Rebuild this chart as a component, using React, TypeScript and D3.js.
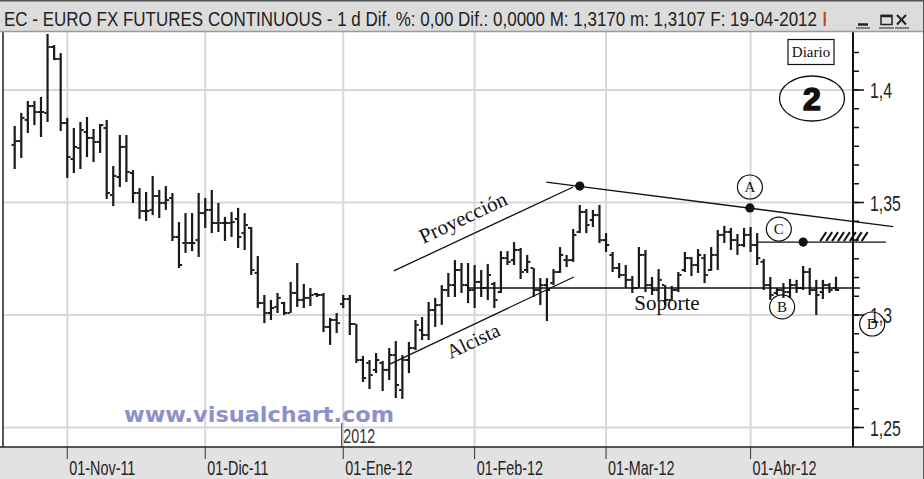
import React from "react";
import * as d3 from "d3";

// ---- Data (EC - Euro FX futures continuous, daily, 20-Oct-2011 .. 19-Apr-2012) ----
const opens = [
  1.3756, 1.3773, 1.3867, 1.3929, 1.3902, 1.3898, 1.4191, 1.4138, 1.3853, 1.3693,
  1.3742, 1.3813, 1.3787, 1.3769, 1.3831, 1.3533, 1.3613, 1.3747, 1.3631, 1.3542,
  1.3462, 1.3467, 1.3529, 1.3498, 1.3520, 1.3347, 1.3320, 1.3320, 1.3333, 1.3453,
  1.3467, 1.3409, 1.3409, 1.3409, 1.3427, 1.3364, 1.3387, 1.3187, 1.3053, 1.3009,
  1.3036, 1.3053, 1.3009, 1.3098, 1.3067, 1.3076, 1.3093, 1.3089, 1.2947, 1.2978,
  1.3049, 1.3071, 1.2960, 1.2800, 1.2787, 1.2756, 1.2787, 1.2756, 1.2822, 1.2667,
  1.2800, 1.2853, 1.2933, 1.2911, 1.3022, 1.3044, 1.3111, 1.3133, 1.3200, 1.3133,
  1.3111, 1.3147, 1.3120, 1.3138, 1.3102, 1.3253, 1.3244, 1.3289, 1.3200, 1.3209,
  1.3111, 1.3133, 1.3142, 1.3191, 1.3244, 1.3244, 1.3369, 1.3458, 1.3422, 1.3444,
  1.3333, 1.3267, 1.3209, 1.3178, 1.3156, 1.3120, 1.3267, 1.3133, 1.3111, 1.3133,
  1.3067, 1.3111, 1.3200, 1.3253, 1.3222, 1.3253, 1.3200, 1.3267, 1.3356, 1.3369,
  1.3333, 1.3311, 1.3356, 1.3311, 1.3236, 1.3133, 1.3098, 1.3111, 1.3102, 1.3133,
  1.3120, 1.3191, 1.3111, 1.3102, 1.3133, 1.3120,
];
const highs = [
  1.3840, 1.3898, 1.3951, 1.3951, 1.3969, 1.4249, 1.4200, 1.4164, 1.3876, 1.3831,
  1.3858, 1.3880, 1.3827, 1.3849, 1.3867, 1.3662, 1.3800, 1.3800, 1.3644, 1.3564,
  1.3547, 1.3618, 1.3556, 1.3573, 1.3542, 1.3413, 1.3453, 1.3453, 1.3542, 1.3520,
  1.3556, 1.3498, 1.3436, 1.3458, 1.3476, 1.3453, 1.3391, 1.3262, 1.3089, 1.3067,
  1.3098, 1.3058, 1.3147, 1.3231, 1.3138, 1.3120, 1.3098, 1.3098, 1.2987, 1.3009,
  1.3089, 1.3089, 1.2960, 1.2818, 1.2800, 1.2831, 1.2796, 1.2853, 1.2884, 1.2822,
  1.2880, 1.2978, 1.2991, 1.3058, 1.3076, 1.3133, 1.3187, 1.3244, 1.3231, 1.3231,
  1.3222, 1.3200, 1.3227, 1.3147, 1.3284, 1.3284, 1.3324, 1.3298, 1.3267, 1.3209,
  1.3164, 1.3164, 1.3204, 1.3302, 1.3267, 1.3382, 1.3489, 1.3471, 1.3467, 1.3489,
  1.3364, 1.3280, 1.3231, 1.3222, 1.3173, 1.3302, 1.3289, 1.3169, 1.3204, 1.3133,
  1.3129, 1.3191, 1.3280, 1.3258, 1.3293, 1.3271, 1.3302, 1.3378, 1.3396, 1.3387,
  1.3360, 1.3387, 1.3391, 1.3364, 1.3249, 1.3169, 1.3120, 1.3142, 1.3160, 1.3156,
  1.3218, 1.3209, 1.3156, 1.3156, 1.3142, 1.3170,
];
const lows = [
  1.3649, 1.3698, 1.3809, 1.3844, 1.3791, 1.3858, 1.4133, 1.3818, 1.3609, 1.3631,
  1.3649, 1.3702, 1.3680, 1.3720, 1.3516, 1.3484, 1.3569, 1.3591, 1.3498, 1.3427,
  1.3418, 1.3444, 1.3431, 1.3467, 1.3329, 1.3209, 1.3276, 1.3284, 1.3258, 1.3387,
  1.3364, 1.3369, 1.3329, 1.3347, 1.3298, 1.3289, 1.3178, 1.3031, 1.2964, 1.2978,
  1.3009, 1.3000, 1.3009, 1.3036, 1.3031, 1.3040, 1.3080, 1.2924, 1.2867, 1.2920,
  1.3031, 1.2911, 1.2787, 1.2702, 1.2671, 1.2742, 1.2662, 1.2711, 1.2631, 1.2627,
  1.2742, 1.2844, 1.2889, 1.2889, 1.2947, 1.2956, 1.3080, 1.3080, 1.3098, 1.3053,
  1.3031, 1.3080, 1.3067, 1.3031, 1.3098, 1.3222, 1.3222, 1.3160, 1.3187, 1.3080,
  1.3044, 1.2973, 1.3133, 1.3187, 1.3213, 1.3236, 1.3364, 1.3364, 1.3391, 1.3320,
  1.3280, 1.3191, 1.3164, 1.3120, 1.3098, 1.3120, 1.3102, 1.3089, 1.3067, 1.3044,
  1.3067, 1.3102, 1.3191, 1.3173, 1.3187, 1.3142, 1.3196, 1.3200, 1.3320, 1.3289,
  1.3267, 1.3302, 1.3280, 1.3222, 1.3111, 1.3067, 1.3089, 1.3076, 1.3076, 1.3098,
  1.3111, 1.3089, 1.3000, 1.3071, 1.3098, 1.3107,
];
const closes = [
  1.3773, 1.3876, 1.3929, 1.3902, 1.3902, 1.4191, 1.4138, 1.3853, 1.3702, 1.3747,
  1.3822, 1.3787, 1.3769, 1.3844, 1.3542, 1.3618, 1.3747, 1.3636, 1.3542, 1.3462,
  1.3462, 1.3529, 1.3498, 1.3511, 1.3347, 1.3222, 1.3320, 1.3320, 1.3453, 1.3467,
  1.3409, 1.3409, 1.3409, 1.3413, 1.3347, 1.3400, 1.3200, 1.3053, 1.3009, 1.3031,
  1.3076, 1.3009, 1.3098, 1.3067, 1.3076, 1.3089, 1.3089, 1.2947, 1.2978, 1.2964,
  1.3071, 1.2960, 1.2800, 1.2720, 1.2733, 1.2800, 1.2756, 1.2822, 1.2689, 1.2800,
  1.2853, 1.2956, 1.2911, 1.3022, 1.3044, 1.3111, 1.3133, 1.3200, 1.3133, 1.3111,
  1.3147, 1.3120, 1.3178, 1.3067, 1.3253, 1.3236, 1.3289, 1.3191, 1.3236, 1.3111,
  1.3133, 1.3111, 1.3191, 1.3267, 1.3244, 1.3356, 1.3458, 1.3400, 1.3444, 1.3333,
  1.3311, 1.3209, 1.3178, 1.3156, 1.3120, 1.3267, 1.3133, 1.3111, 1.3156, 1.3067,
  1.3111, 1.3178, 1.3253, 1.3222, 1.3267, 1.3178, 1.3267, 1.3356, 1.3369, 1.3333,
  1.3311, 1.3356, 1.3311, 1.3253, 1.3133, 1.3089, 1.3111, 1.3102, 1.3133, 1.3120,
  1.3191, 1.3111, 1.3089, 1.3133, 1.3111, 1.3111,
];

// Month ticks (bar index of first session of each month) and labels
const monthTickIdx = [8, 29, 50, 70, 90, 112];
const monthLabels = ["01-Nov-11", "01-Dic-11", "01-Ene-12", "01-Feb-12", "01-Mar-12", "01-Abr-12"];
const yearIdx = 50;
const yearLabel = "2012";

// Price axis
const yTicks = [1.25, 1.3, 1.35, 1.4];
const yTickLabels = ["1,25", "1,3", "1,35", "1,4"];

// Title
const titleText =
  "EC - EURO FX FUTURES CONTINUOUS - 1 d Dif. %: 0,00 Dif.: 0,0000 M: 1,3170 m: 1,3107 F: 19-04-2012";

// Hand-drawn analysis (index, price)
const projLine = [[57.7, 1.3196], [85.0, 1.3569]];
const resistLine = [[80.9, 1.3591], [133.7, 1.3393]];
const alcistaLine = [[57.1, 1.2782], [85.1, 1.3169]];
const supportLine = [[68.85, 1.312], [128.65, 1.312]];
const cLine = [[113.0, 1.3324], [132.6, 1.3324]];
const dots = [[86.0, 1.3573], [111.9, 1.3476], [120.0, 1.3324]];
const circleLabels = [
  { t: "A", i: 111.9, p: 1.3569 },
  { t: "C", i: 116.3, p: 1.3382 },
  { t: "B", i: 116.8, p: 1.3036 },
  { t: "D", i: 130.5, p: 1.296 },
];

const NARROW = 0.72;
const SANS = "'Liberation Sans', Arial, sans-serif";
const SERIF = "'Liberation Serif', 'Times New Roman', serif";

function Narrow(props: any) {
  const { x, y, size, anchor = "start", fill = "#222", children } = props;
  return (
    <text
      transform={`translate(${x},${y}) scale(${NARROW},1)`}
      fontSize={size}
      fontFamily={SANS}
      textAnchor={anchor}
      fill={fill}
    >
      {children}
    </text>
  );
}

export default function App() {
  const W = 924, H = 479;
  const plot = { left: 3, top: 32, right: 853, bottom: 447 };
  const x = d3.scaleLinear().domain([0, highs.length - 1]).range([14.7, 836]);
  const y = d3.scaleLinear().domain([1.25, 1.4]).range([427.5, 90]);
  const minor = d3
    .range(-2, 24)
    .map((k) => 1.25 + (k * 0.05) / 6)
    .filter((v) => y(v) > plot.top + 3 && y(v) < plot.bottom - 3);
  const line = d3
    .line<number[]>()
    .x((d) => x(d[0]))
    .y((d) => y(d[1]));

  const barColor = "#1a1a1a";
  const gridColor = "#d8d8d8";

  const angle = (pts: number[][]) =>
    (Math.atan2(y(pts[1][1]) - y(pts[0][1]), x(pts[1][0]) - x(pts[0][0])) * 180) / Math.PI;

  // hatch
  const hatchX0 = x(122.6), hatchX1 = x(129.8);
  const hatch = d3.range(8).map((k) => hatchX0 + (k * (hatchX1 - hatchX0)) / 8);

  return (
    <svg
      width={W}
      height={H}
      style={{ position: "absolute", left: 0, top: 0, background: "#fff" }}
    >
      <defs>
        <clipPath id="plotClip">
          <rect x={plot.left} y={plot.top} width={plot.right - plot.left} height={plot.bottom - plot.top} />
        </clipPath>
      </defs>
      <rect x={0} y={0} width={W} height={H} fill="#fff" />

      {/* grid */}
      <g clipPath="url(#plotClip)">
        {yTicks.map((v) => (
          <line key={v} x1={plot.left} x2={plot.right} y1={y(v)} y2={y(v)} stroke={gridColor} strokeWidth={2} />
        ))}
        {monthTickIdx.map((i) => (
          <line key={i} x1={x(i)} x2={x(i)} y1={plot.top} y2={plot.bottom} stroke={gridColor} strokeWidth={2} />
        ))}
      </g>

      {/* right axis */}
      <line x1={plot.right} x2={plot.right} y1={plot.top} y2={plot.bottom} stroke="#111" strokeWidth={2} />
      {minor.map((v, k) => (
        <line key={k} x1={plot.right} x2={plot.right + 6} y1={y(v)} y2={y(v)} stroke="#111" strokeWidth={1.5} />
      ))}
      {yTicks.map((v, k) => (
        <g key={v}>
          <line x1={plot.right} x2={plot.right + 11} y1={y(v)} y2={y(v)} stroke="#111" strokeWidth={1.5} />
          <Narrow x={870} y={y(v) + 8} size={22} fill="#222">
            {yTickLabels[k]}
          </Narrow>
        </g>
      ))}

      {/* watermark */}
      <text
        x={124}
        y={422}
        fontSize={21}
        fontWeight="bold"
        fontFamily="'DejaVu Sans', Verdana, sans-serif"
        fill="#8d90c9"
        textLength={270}
        lengthAdjust="spacingAndGlyphs"
      >
        www.visualchart.com
      </text>

      {/* year marker */}
      <line x1={x(yearIdx) - 1.5} x2={x(yearIdx) - 1.5} y1={423} y2={plot.bottom} stroke="#333" strokeWidth={1} />
      <Narrow x={x(yearIdx)} y={443} size={20} fill="#333">
        {yearLabel}
      </Narrow>

      {/* OHLC bars */}
      <g clipPath="url(#plotClip)" fill={barColor}>
        {highs.map((h, i) => {
          const cx = x(i);
          return (
            <g key={i}>
              <rect x={cx - 1.1} y={y(h)} width={2.2} height={Math.max(2, y(lows[i]) - y(h))} />
              <rect x={cx - 3.2} y={y(opens[i]) - 1} width={2.3} height={2} />
              <rect x={cx + 0.9} y={y(closes[i]) - 1} width={2.3} height={2} />
            </g>
          );
        })}
      </g>

      {/* analysis lines */}
      <g stroke="#111" strokeWidth={1.3} fill="none">
        <path d={line(projLine as any) || ""} />
        <path d={line(resistLine as any) || ""} />
        <path d={line(alcistaLine as any) || ""} />
        <path d={line(supportLine as any) || ""} />
        <path d={line(cLine as any) || ""} />
        {hatch.map((hx, k) => (
          <line key={k} x1={hx} y1={y(1.3324) - 1} x2={hx + 6} y2={y(1.3324) - 10} strokeWidth={2} />
        ))}
      </g>
      {dots.map((d, k) => (
        <circle key={k} cx={x(d[0])} cy={y(d[1])} r={4.6} fill="#111" />
      ))}

      {/* labels along lines */}
      <text
        transform={`translate(466,224) rotate(${angle(projLine)})`}
        textAnchor="middle"
        fontSize={21}
        fontFamily={SERIF}
        fill="#111"
      >
        Proyección
      </text>
      <text
        transform={`translate(476,347) rotate(${angle(alcistaLine)})`}
        textAnchor="middle"
        fontSize={20}
        fontFamily={SERIF}
        fill="#111"
      >
        Alcista
      </text>
      <text x={667} y={310} textAnchor="middle" fontSize={21} fontFamily={SERIF} fill="#111">
        Soporte
      </text>

      {/* circled letters */}
      {circleLabels.map((c) => (
        <g key={c.t}>
          <ellipse cx={x(c.i)} cy={y(c.p)} rx={12.5} ry={12} fill="none" stroke="#111" strokeWidth={1.2} />
          <text
            x={x(c.i)}
            y={y(c.p) + 5}
            textAnchor="middle"
            fontSize={15}
            fontFamily={SERIF}
            fill="#111"
          >
            {c.t}
          </text>
        </g>
      ))}

      {/* Diario box and 2 badge */}
      <rect x={788} y={39.5} width={46} height={25} fill="#fff" stroke="#111" strokeWidth={1.2} />
      <text x={811} y={57} textAnchor="middle" fontSize={15} fontFamily={SERIF} fill="#111">
        Diario
      </text>
      <ellipse cx={812} cy={98.5} rx={32.5} ry={22.5} fill="none" stroke="#111" strokeWidth={1.3} />
      <text
        x={812}
        y={110}
        textAnchor="middle"
        fontSize={32}
        fontWeight={900}
        fontFamily={SANS}
        fill="#111"
        stroke="#111"
        strokeWidth={1.6}
      >
        2
      </text>

      {/* borders of plot */}
      <line x1={plot.left} x2={plot.left} y1={plot.top} y2={plot.bottom} stroke="#555" strokeWidth={2} />

      {/* bottom axis area */}
      <rect x={0} y={plot.bottom} width={W} height={H - plot.bottom} fill="#e2e2e2" />
      <line x1={0} x2={W} y1={plot.bottom} y2={plot.bottom} stroke="#222" strokeWidth={1.5} />
      {monthTickIdx.map((i, k) => (
        <g key={i}>
          <line x1={x(i)} x2={x(i)} y1={plot.bottom} y2={459} stroke="#333" strokeWidth={1} />
          <Narrow x={x(i) + 2} y={475} size={20} fill="#222">
            {monthLabels[k]}
          </Narrow>
        </g>
      ))}

      {/* title bar */}
      <rect x={0} y={0} width={W} height={plot.top} fill="#dcdcdc" />
      <line x1={0} x2={W} y1={0.75} y2={0.75} stroke="#555" strokeWidth={1.5} />
      <line x1={0} x2={W} y1={plot.top - 0.5} y2={plot.top - 0.5} stroke="#9a9a9a" strokeWidth={1.5} />
      <text
        x={4}
        y={26}
        fontSize={21}
        fontFamily={SANS}
        fill="#222"
        textLength={813}
        lengthAdjust="spacingAndGlyphs"
      >
        {titleText}
      </text>
      <text x={822} y={26} fontSize={21} fontFamily={SANS} fill="#d04010">
        F
      </text>
      <rect x={826} y={3} width={97} height={27} fill="#dcdcdc" />
      {/* window buttons */}
      <g stroke="#222" fill="none">
        <line x1={858} x2={868} y1={24.5} y2={24.5} strokeWidth={2.5} />
        <rect x={881} y={15.5} width={11} height={9} strokeWidth={1.5} />
        <line x1={881} x2={892} y1={16} y2={16} strokeWidth={2.5} />
        <line x1={897} x2={906} y1={15} y2={24.5} strokeWidth={2} />
        <line x1={906} x2={897} y1={15} y2={24.5} strokeWidth={2} />
        <line x1={856} x2={870} y1={28} y2={28} strokeWidth={1} />
        <line x1={879} x2={894} y1={28} y2={28} strokeWidth={1} />
        <line x1={895} x2={909} y1={28} y2={28} strokeWidth={1} />
      </g>
      <line x1={W - 0.5} x2={W - 0.5} y1={0} y2={H} stroke="#555" strokeWidth={1} />
    </svg>
  );
}
